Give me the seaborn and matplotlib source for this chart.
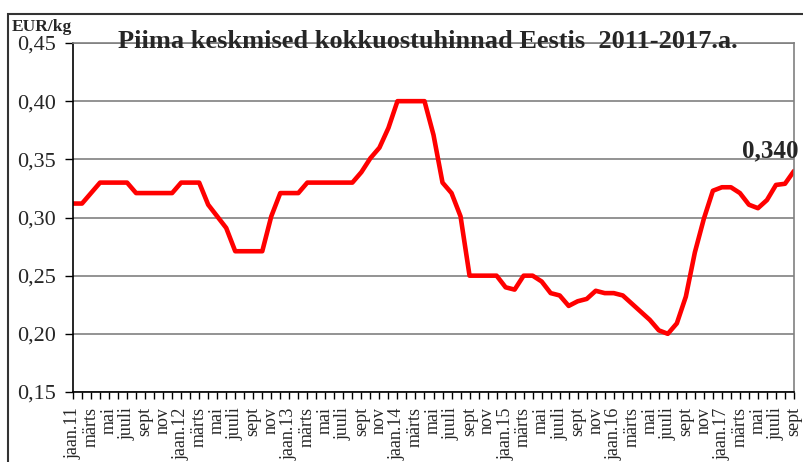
"""Milk average purchase prices in Estonia 2011-2017, recreated with seaborn."""

import matplotlib
matplotlib.use("Agg")
import matplotlib.pyplot as plt
from matplotlib.patches import Rectangle
import pandas as pd
import seaborn as sns

# monthly prices, EUR/kg, jaan.2011 ... sept.2017
prices_2011 = [0.312, 0.312, 0.321, 0.330, 0.330, 0.330, 0.330, 0.321, 0.321, 0.321, 0.321, 0.321]
prices_2012 = [0.330, 0.330, 0.330, 0.311, 0.301, 0.291, 0.271, 0.271, 0.271, 0.271, 0.301, 0.321]
prices_2013 = [0.321, 0.321, 0.330, 0.330, 0.330, 0.330, 0.330, 0.330, 0.339, 0.351, 0.360, 0.377]
prices_2014 = [0.400, 0.400, 0.400, 0.400, 0.371, 0.330, 0.321, 0.301, 0.250, 0.250, 0.250, 0.250]
prices_2015 = [0.240, 0.238, 0.250, 0.250, 0.245, 0.235, 0.233, 0.224, 0.228, 0.230, 0.237, 0.235]
prices_2016 = [0.235, 0.233, 0.226, 0.219, 0.212, 0.203, 0.200, 0.209, 0.232, 0.270, 0.299, 0.323]
prices_2017 = [0.326, 0.326, 0.321, 0.311, 0.308, 0.315, 0.328, 0.329, 0.340]

month_names = ["jaan", "veebr", "märts", "apr", "mai", "juuni",
               "juuli", "aug", "sept", "okt", "nov", "dets"]
years = [11, 12, 13, 14, 15, 16, 17]
y_ticks = [0.15, 0.20, 0.25, 0.30, 0.35, 0.40, 0.45]
last_label = "0,340"

prices = prices_2011 + prices_2012 + prices_2013 + prices_2014 + prices_2015 + prices_2016 + prices_2017
labels = []
for yr in years:
    for m, name in enumerate(month_names):
        labels.append(f"{name}.{yr}" if m == 0 else name)
labels = labels[:len(prices)]

df = pd.DataFrame({"idx": range(len(prices)), "price": prices, "label": labels})

sns.set_theme(style="white")
plt.rcParams["font.family"] = ["Liberation Serif", "DejaVu Serif"]

fig = plt.figure(figsize=(8.04, 4.62), dpi=100)
ax = fig.add_axes([73 / 804, 70 / 462, 721 / 804, 349 / 462])

sns.lineplot(data=df, x="idx", y="price", color="#ff0000", linewidth=3.3, ax=ax)

ax.set_xlim(0, len(prices) - 1)
ax.set_ylim(0.15, 0.45)
ax.set_yticks(y_ticks)
ax.set_yticklabels([f"{v:.2f}".replace(".", ",") for v in y_ticks], fontsize=16)
ax.yaxis.grid(True, color="#808080", linewidth=1.2)
ax.set_axisbelow(True)

major = df["idx"][::2]
ax.set_xticks(major)
ax.set_xticklabels(df["label"][::2], rotation=90, fontsize=13)
ax.set_xticks(df["idx"], minor=True)
ax.tick_params(axis="x", which="both", direction="out", length=5, width=1,
               color="black", bottom=True, pad=6)
ax.tick_params(axis="y", direction="out", length=6, width=1, color="black",
               left=True, pad=6)
ax.set_xlabel("")
ax.set_ylabel("")

for side in ["top", "right"]:
    ax.spines[side].set_color("#808080")
    ax.spines[side].set_linewidth(1.2)
for side in ["left", "bottom"]:
    ax.spines[side].set_color("black")
    ax.spines[side].set_linewidth(1.2)

ax.annotate(last_label, xy=(df["idx"].iloc[-1], prices[-1]), xytext=(-17, 10),
            textcoords="offset points", ha="center", va="baseline",
            fontsize=18, fontweight="bold")

fig.text(0.532, (462 - 48) / 462, "Piima keskmised kokkuostuhinnad Eestis  2011-2017.a.",
         ha="center", va="baseline", fontsize=19, fontweight="bold")
fig.text(12 / 804, (462 - 31) / 462, "EUR/kg", ha="left", va="baseline",
         fontsize=12.5, fontweight="bold")

fig.patches.append(Rectangle((8 / 804, -0.2), 1.2, 0.2 + (462 - 14) / 462,
                             transform=fig.transFigure, fill=False,
                             edgecolor="#333333", linewidth=1.5))

fig.savefig("out.png", dpi=100)
plt.close(fig)
